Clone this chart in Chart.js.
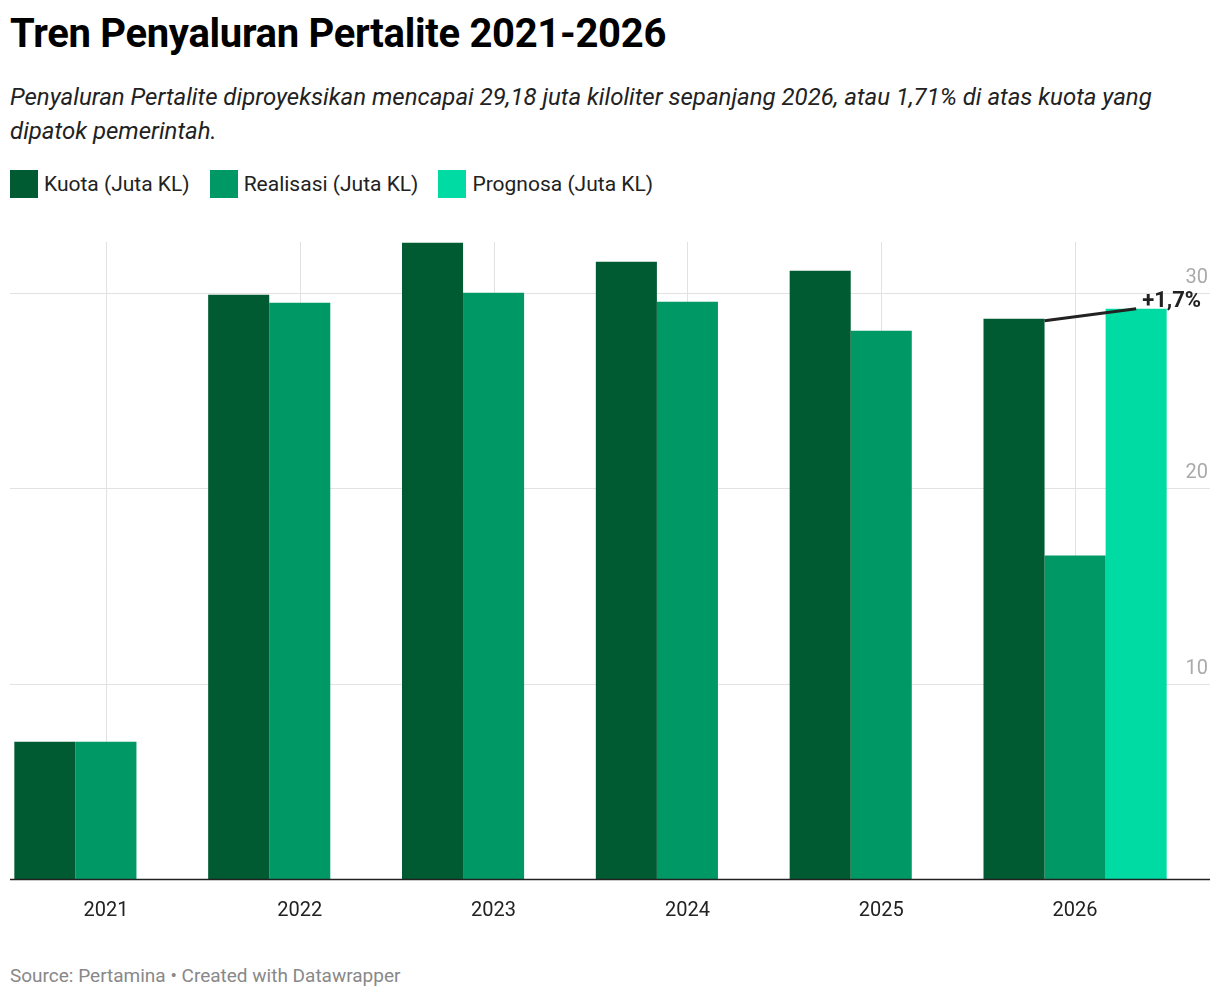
<!DOCTYPE html>
<html><head><meta charset="utf-8">
<script src="https://cdn.jsdelivr.net/npm/chart.js@4"></script>
<style>
body{margin:0;width:1220px;height:1000px;background:#fff;font-family:Roboto,sans-serif;position:relative;overflow:hidden}
h1{position:absolute;left:10px;top:10px;margin:0;font-size:40px;font-weight:700;color:#000;letter-spacing:-0.3px}
.sub{position:absolute;left:10px;top:80px;font-size:24px;font-style:italic;color:#222;line-height:34px;width:1210px}
.leg{position:absolute;left:10px;top:170px;font-size:21px;color:#222;display:flex}
.leg span{display:flex;align-items:center;margin-right:20px}
.leg i{display:inline-block;width:28px;height:28px;margin-right:6px}
#wrap{position:absolute;left:0;top:225px;width:1220px;height:710px}
.src{position:absolute;left:10px;top:964px;font-size:19px;color:#888}
</style></head><body>
<h1>Tren Penyaluran Pertalite 2021-2026</h1>
<div class="sub">Penyaluran Pertalite diproyeksikan mencapai 29,18 juta kiloliter sepanjang 2026, atau 1,71% di atas kuota yang dipatok pemerintah.</div>
<div class="leg"><span><i style="background:#005a32"></i>Kuota (Juta KL)</span><span><i style="background:#009966"></i>Realisasi (Juta KL)</span><span><i style="background:#00dba4"></i>Prognosa (Juta KL)</span></div>
<div id="wrap"><canvas id="c"></canvas></div>
<div class="src">Source: Pertamina • Created with Datawrapper</div>
<script>
const years=['2021','2022','2023','2024','2025','2026'];
const kuota=[7.03,29.9,32.56,31.59,31.13,28.67];
const realisasi=[7.03,29.49,30.0,29.54,28.06,16.55];
const prognosa=[null,null,null,null,null,29.18];
const yTicks=[10,20,30];
const gridPlug={id:'g',beforeDatasetsDraw(ch){const c=ch.ctx,y=ch.scales.y,a=ch.chartArea;c.save();c.strokeStyle='#e2e2e2';c.lineWidth=1;
 years.forEach((_,i)=>{const x=Math.round(ch.scales.x.getPixelForValue(i))+0.5;c.beginPath();c.moveTo(x,a.top);c.lineTo(x,a.bottom);c.stroke();});
 c.fillStyle='#aaa';c.font='20px Roboto';c.textAlign='right';c.textBaseline='bottom';
 yTicks.forEach(t=>{const p=Math.round(y.getPixelForValue(t))+0.5;c.beginPath();c.moveTo(10,p);c.lineTo(1210,p);c.stroke();c.fillText(String(t),1208,p-6);});
 c.restore();},
 afterDatasetsDraw(ch){const c=ch.ctx,a=ch.chartArea;c.save();c.strokeStyle='#222';c.lineWidth=1.5;c.beginPath();c.moveTo(10,a.bottom+0.5);c.lineTo(1210,a.bottom+0.5);c.stroke();
 const b0=ch.getDatasetMeta(0).data[5],b2=ch.getDatasetMeta(2).data[5];
 const x1=b0.x+b0.width/2,y1=b0.y+2,x2=b2.x,y2=b2.y;c.lineWidth=3;c.beginPath();c.moveTo(x1,y1);c.lineTo(x2,y2);c.stroke();
 c.fillStyle='#222';c.font='bold 22px Roboto';c.textAlign='left';c.textBaseline='bottom';c.fillText('+1,7%',x2+6,y2+4);c.restore();}};
new Chart(document.getElementById('c'),{type:'bar',
 data:{labels:years,datasets:[
  {label:'Kuota (Juta KL)',data:kuota,backgroundColor:'#005a32'},
  {label:'Realisasi (Juta KL)',data:realisasi,backgroundColor:'#009966'},
  {label:'Prognosa (Juta KL)',data:prognosa,backgroundColor:'#00dba4'}]},
 options:{responsive:true,maintainAspectRatio:false,animation:false,
  datasets:{bar:{barPercentage:1,categoryPercentage:0.945}},
  layout:{padding:{left:9,right:48,top:17,bottom:0}},
  plugins:{legend:{display:false},tooltip:{enabled:false}},
  scales:{x:{grid:{display:false},border:{display:false},ticks:{color:'#222',font:{size:20,family:'Roboto'},padding:12}},
   y:{min:0,max:32.6,display:false}}},
 plugins:[gridPlug]});
</script></body></html>
